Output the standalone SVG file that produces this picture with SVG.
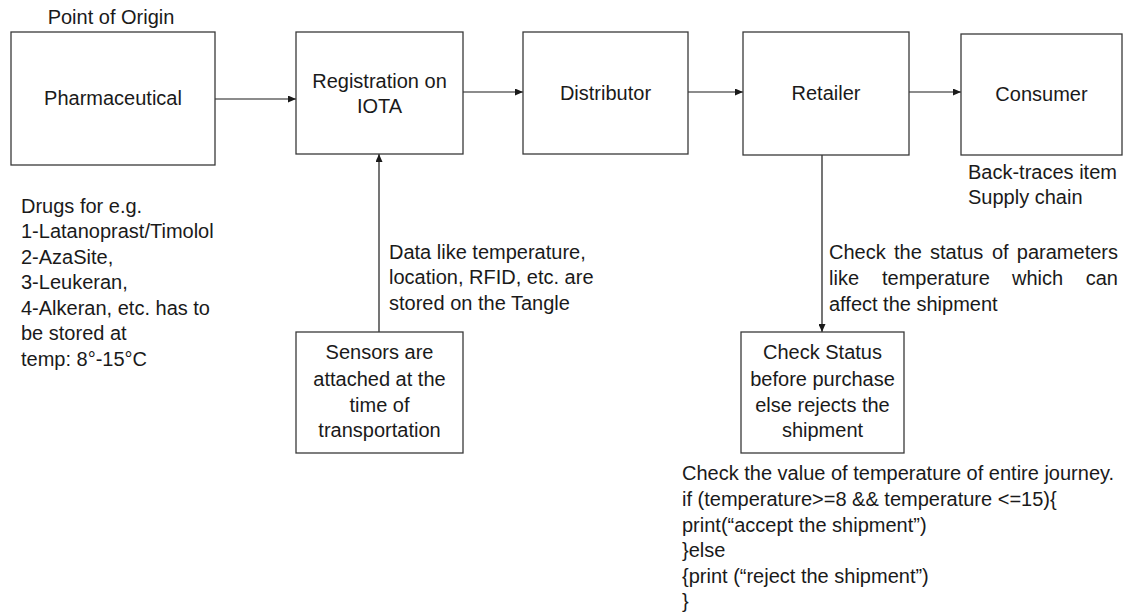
<svg xmlns="http://www.w3.org/2000/svg" width="1131" height="612" viewBox="0 0 1131 612">
<style>
.box{fill:#fff;stroke:#3a3a3a;stroke-width:1.3}
text{font-family:"Liberation Sans",Arial,sans-serif;font-size:20px;fill:#1a1a1a}
.c{text-anchor:middle}
.e{text-anchor:end}
.conn{stroke:#1a1a1a;stroke-width:1.2;fill:none;marker-end:url(#ah)}
</style>
<defs>
<marker id="ah" markerUnits="userSpaceOnUse" markerWidth="8" markerHeight="7" refX="8" refY="3.5" orient="auto">
<path d="M0,0 L8,3.5 L0,7 z" fill="#1a1a1a"/>
</marker>
</defs>
<rect width="1131" height="612" fill="#fff"/>
<g id="connectors">
<line class="conn" x1="215" y1="99" x2="296" y2="99"/>
<line class="conn" x1="463" y1="92" x2="523" y2="92"/>
<line class="conn" x1="688" y1="92" x2="743" y2="92"/>
<line class="conn" x1="909" y1="92" x2="961" y2="92"/>
<line class="conn" x1="379" y1="332" x2="379" y2="154"/>
<line class="conn" x1="822" y1="155" x2="822" y2="332"/>
</g>
<g id="pharmaceutical">
<text x="111" y="24" class="c">Point of Origin</text>
<rect class="box" x="11" y="32" width="204" height="133"/>
<text x="113" y="105" class="c">Pharmaceutical</text>
</g>
<g id="registration">
<rect class="box" x="296" y="32" width="167" height="122"/>
<text x="379.5" y="88" class="c">Registration on</text>
<text x="379.5" y="113" class="c">IOTA</text>
</g>
<g id="distributor">
<rect class="box" x="523" y="32" width="165" height="122"/>
<text x="605.5" y="100" class="c">Distributor</text>
</g>
<g id="retailer">
<rect class="box" x="743" y="32" width="166" height="123"/>
<text x="826" y="100" class="c">Retailer</text>
</g>
<g id="consumer">
<rect class="box" x="961" y="34" width="161" height="121"/>
<text x="1041.5" y="101" class="c">Consumer</text>
<text x="968" y="179">Back-traces item</text>
<text x="968" y="204">Supply chain</text>
</g>
<g id="drugs-note">
<text x="21" y="213">Drugs for e.g.</text>
<text x="21" y="238">1-Latanoprast/Timolol</text>
<text x="21" y="264">2-AzaSite,</text>
<text x="21" y="289">3-Leukeran,</text>
<text x="21" y="315">4-Alkeran, etc. has to</text>
<text x="21" y="340">be stored at</text>
<text x="21" y="366">temp: 8°-15°C</text>
</g>
<g id="data-label">
<text x="389" y="259">Data like temperature,</text>
<text x="389" y="284">location, RFID, etc. are</text>
<text x="389" y="310">stored on the Tangle</text>
</g>
<g id="sensors">
<rect class="box" x="296" y="332" width="167" height="121"/>
<text x="379.5" y="359" class="c">Sensors are</text>
<text x="379.5" y="386" class="c">attached at the</text>
<text x="379.5" y="412" class="c">time of</text>
<text x="379.5" y="437" class="c">transportation</text>
</g>
<g id="check-label">
<text x="829" y="259">Check</text>
<text x="894" y="259">the</text>
<text x="930" y="259">status</text>
<text x="992" y="259">of</text>
<text x="1118" y="259" class="e">parameters</text>
<text x="829" y="285">like</text>
<text x="882" y="285">temperature</text>
<text x="1012" y="285">which</text>
<text x="1118" y="285" class="e">can</text>
<text x="829" y="311">affect the shipment</text>
</g>
<g id="check-status">
<rect class="box" x="741" y="332" width="163" height="121"/>
<text x="822.5" y="359" class="c">Check Status</text>
<text x="822.5" y="386" class="c">before purchase</text>
<text x="822.5" y="412" class="c">else rejects the</text>
<text x="822.5" y="437" class="c">shipment</text>
</g>
<g id="code">
<text x="682" y="480">Check the value of temperature of entire journey.</text>
<text x="682" y="506">if (temperature&gt;=8 &amp;&amp; temperature &lt;=15){</text>
<text x="682" y="532">print(“accept the shipment”)</text>
<text x="682" y="557">}else</text>
<text x="682" y="583">{print (“reject the shipment”)</text>
<text x="682" y="608">}</text>
</g>
</svg>
